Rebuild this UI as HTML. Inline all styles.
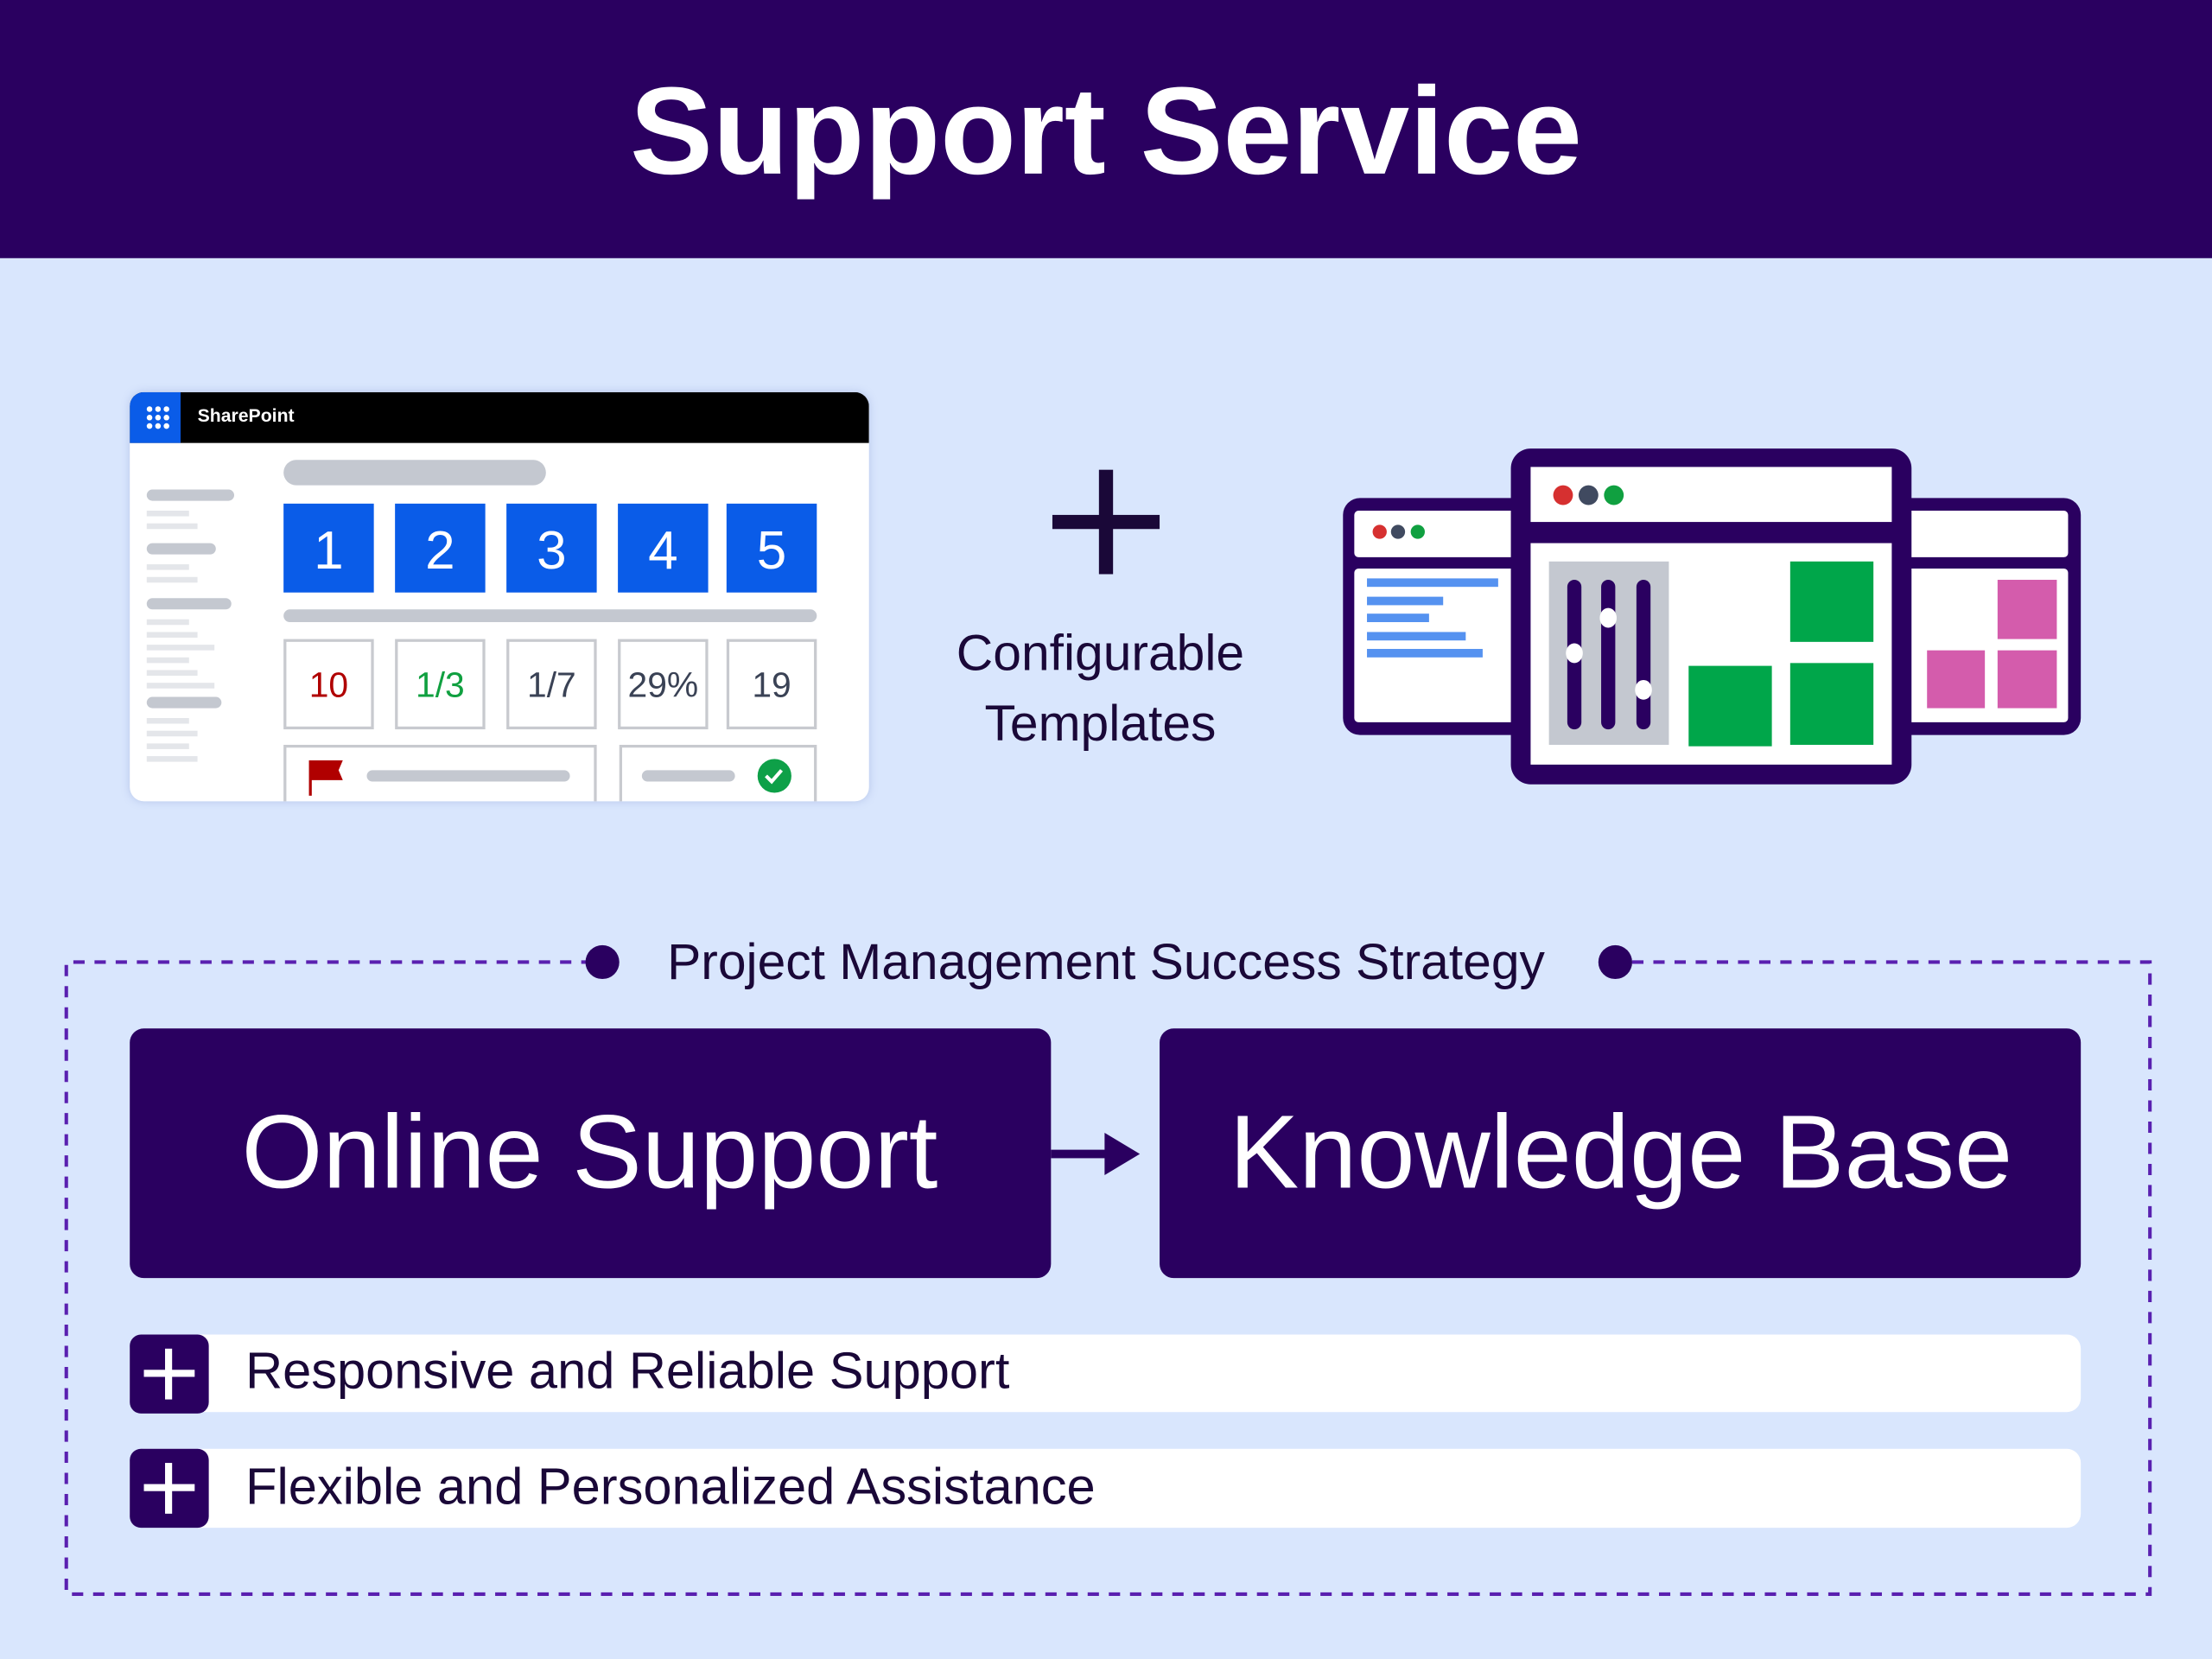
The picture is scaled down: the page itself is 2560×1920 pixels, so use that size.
<!DOCTYPE html>
<html><head><meta charset="utf-8"><style>
html,body{margin:0;padding:0;}
body{width:2560px;height:1920px;overflow:hidden;background:#d9e6fd;font-family:"Liberation Sans",sans-serif;}
#s{position:absolute;left:0;top:0;width:1568px;height:1176px;transform:scale(1.632653);transform-origin:0 0;}
.a{position:absolute;}
.t{position:absolute;white-space:nowrap;}
</style></head><body><div id="s">
<div class="a" style="left:0;top:0;width:1568px;height:183px;background:#2a0060"></div>
<div class="t" style="left:0;width:1568px;top:38px;text-align:center;color:#fff;font-size:88px;font-weight:bold;line-height:110px">Support Service</div>

<div class="a" style="left:92px;top:278px;width:524px;height:290px;background:#fff;border-radius:10px;overflow:hidden;box-shadow:0 0 6px rgba(120,140,200,.35)">
 <div class="a" style="left:0;top:0;width:524px;height:36px;background:#000"></div>
 <div class="a" style="left:0;top:0;width:36px;height:36px;background:#0a5ce8"></div>
 <div class="t" style="left:48px;top:9px;color:#fff;font-size:13px;font-weight:bold">SharePoint</div>
</div>
<svg class="a" style="left:0;top:0" width="1568" height="1176">
 <g fill="#fff">
  <circle cx="106" cy="290" r="2"/><circle cx="112" cy="290" r="2"/><circle cx="118" cy="290" r="2"/>
  <circle cx="106" cy="296" r="2"/><circle cx="112" cy="296" r="2"/><circle cx="118" cy="296" r="2"/>
  <circle cx="106" cy="302" r="2"/><circle cx="112" cy="302" r="2"/><circle cx="118" cy="302" r="2"/>
 </g>
 <g fill="#c4c8d0">
  <rect x="201" y="326" width="186" height="18" rx="9"/>
  <rect x="201" y="432" width="378" height="9" rx="4.5"/>
  <rect x="104" y="347" width="62" height="8" rx="4"/><rect x="104" y="385" width="49" height="8" rx="4"/>
  <rect x="104" y="424" width="60" height="8" rx="4"/><rect x="104" y="494" width="53" height="8" rx="4"/>
  <rect x="260" y="546" width="144" height="8" rx="4"/><rect x="455" y="546" width="66" height="8" rx="4"/>
 </g>
 <g fill="#e4e6ea">
  <rect x="104" y="362" width="30" height="4"/><rect x="104" y="371" width="36" height="4"/>
  <rect x="104" y="400" width="30" height="4"/><rect x="104" y="409" width="36" height="4"/>
  <rect x="104" y="439" width="30" height="4"/><rect x="104" y="448" width="36" height="4"/><rect x="104" y="457" width="48" height="4"/>
  <rect x="104" y="466" width="30" height="4"/><rect x="104" y="475" width="36" height="4"/><rect x="104" y="484" width="48" height="4"/>
  <rect x="104" y="509" width="30" height="4"/><rect x="104" y="518" width="36" height="4"/><rect x="104" y="527" width="30" height="4"/><rect x="104" y="536" width="36" height="4"/>
 </g>
 <g fill="#0a5ce8">
  <rect x="201" y="357" width="64" height="63"/><rect x="280" y="357" width="64" height="63"/><rect x="359" y="357" width="64" height="63"/><rect x="438" y="357" width="64" height="63"/><rect x="515" y="357" width="64" height="63"/>
 </g>
 <g fill="#fff" font-size="38" text-anchor="middle" font-family="Liberation Sans">
  <text x="233" y="403">1</text><text x="312" y="403">2</text><text x="391" y="403">3</text><text x="470" y="403">4</text><text x="547" y="403">5</text>
 </g>
 <g fill="#fff" stroke="#c8cacf" stroke-width="2">
  <rect x="202" y="454" width="62" height="62"/><rect x="281" y="454" width="62" height="62"/><rect x="360" y="454" width="62" height="62"/><rect x="439" y="454" width="62" height="62"/><rect x="516" y="454" width="62" height="62"/>
  <path d="M202 568V529H422V568M440 568V529H578V568" fill="none"/>
 </g>
 <g font-size="25" text-anchor="middle" font-family="Liberation Sans">
  <text x="233" y="494" fill="#b00000">10</text><text x="312" y="494" fill="#10a040">1/3</text><text x="391" y="494" fill="#3a4255">1/7</text><text x="470" y="494" fill="#3a4255">29%</text><text x="547" y="494" fill="#3a4255">19</text>
 </g>
 <path d="M219 539h24l-3 7 3 7h-22v11h-2z" fill="#b00000"/>
 <circle cx="549" cy="550" r="12" fill="#0ea048"/><path d="M543 550l4 4 7-8" stroke="#fff" stroke-width="2.5" fill="none"/>

 <rect x="746" y="365" width="76" height="10" fill="#1a0838"/><rect x="779" y="333" width="10" height="74" fill="#1a0838"/>

 <rect x="952" y="353" width="140" height="168" rx="12" fill="#2a0060"/>
 <rect x="1335" y="353" width="140" height="168" rx="12" fill="#2a0060"/>
 <rect x="960" y="362" width="120" height="33" rx="3" fill="#fff"/><rect x="960" y="403" width="120" height="109" rx="3" fill="#fff"/>
 <rect x="1345" y="362" width="121" height="33" rx="3" fill="#fff"/><rect x="1345" y="403" width="121" height="109" rx="3" fill="#fff"/>
 <circle cx="978" cy="377" r="5" fill="#d63030"/><circle cx="991" cy="377" r="5" fill="#404a60"/><circle cx="1005" cy="377" r="5" fill="#10a040"/>
 <g fill="#5592f0"><rect x="969" y="410" width="93" height="6"/><rect x="969" y="423" width="54" height="6"/><rect x="969" y="435" width="44" height="6"/><rect x="969" y="448" width="70" height="6"/><rect x="969" y="460" width="82" height="6"/></g>
 <g fill="#d45cac"><rect x="1416" y="411" width="42" height="42"/><rect x="1366" y="461" width="41" height="41"/><rect x="1416" y="461" width="42" height="41"/></g>
 <rect x="1071" y="318" width="284" height="238" rx="14" fill="#2a0060"/>
 <rect x="1085" y="331" width="256" height="39" fill="#fff"/><rect x="1085" y="385" width="256" height="157" fill="#fff"/>
 <circle cx="1108" cy="351" r="7" fill="#d63030"/><circle cx="1126" cy="351" r="7" fill="#404a60"/><circle cx="1144" cy="351" r="7" fill="#10a040"/>
 <rect x="1098" y="398" width="85" height="130" fill="#c4c8d0"/>
 <g fill="#2a0060"><rect x="1111" y="411" width="10" height="106" rx="5"/><rect x="1135" y="411" width="10" height="106" rx="5"/><rect x="1160" y="411" width="10" height="106" rx="5"/></g>
 <g fill="#fff"><ellipse cx="1116" cy="463" rx="6" ry="7"/><ellipse cx="1140" cy="438" rx="6" ry="7"/><ellipse cx="1165" cy="489" rx="6" ry="7"/></g>
 <g fill="#00a64a"><rect x="1269" y="398" width="59" height="57"/><rect x="1197" y="472" width="59" height="57"/><rect x="1269" y="470" width="59" height="58"/></g>

 <path d="M420 682H47V1130H1524V682H1150" fill="none" stroke="#5a20b0" stroke-width="2.5" stroke-dasharray="8 7"/>
 <circle cx="427" cy="682" r="12" fill="#2a0060"/><circle cx="1145" cy="682" r="12" fill="#2a0060"/>
 <text x="784" y="694" text-anchor="middle" font-size="36" fill="#1a0838" font-family="Liberation Sans">Project Management Success Strategy</text>

 <rect x="92" y="729" width="653" height="177" rx="10" fill="#2a0060"/>
 <rect x="822" y="729" width="653" height="177" rx="10" fill="#2a0060"/>
 <rect x="745" y="815" width="40" height="6" fill="#2a0060"/><path d="M783 803L808 818L783 833z" fill="#2a0060"/>
 <text x="418" y="842" text-anchor="middle" font-size="74" fill="#fff" font-family="Liberation Sans">Online Support</text>
 <text x="1149" y="842" text-anchor="middle" font-size="74" fill="#fff" font-family="Liberation Sans">Knowledge Base</text>

 <rect x="92" y="946" width="1383" height="55" rx="10" fill="#fff"/>
 <rect x="92" y="1027" width="1383" height="56" rx="10" fill="#fff"/>
 <rect x="92" y="946" width="56" height="56" rx="8" fill="#2a0060"/>
 <rect x="92" y="1027" width="56" height="56" rx="8" fill="#2a0060"/>
 <g fill="#fff"><rect x="102" y="971" width="36" height="5"/><rect x="117" y="956" width="5" height="36"/><rect x="102" y="1052" width="36" height="5"/><rect x="117" y="1037" width="5" height="36"/></g>
 <text x="174" y="984" font-size="36.5" fill="#1a0838" font-family="Liberation Sans">Responsive and Reliable Support</text>
 <text x="174" y="1066" font-size="36.5" fill="#1a0838" font-family="Liberation Sans">Flexible and Personalized Assistance</text>
</svg>
<div class="t" style="left:640px;width:280px;top:438px;text-align:center;font-size:36px;line-height:50px;color:#1a0838">Configurable<br>Templates</div>
</div></body></html>
